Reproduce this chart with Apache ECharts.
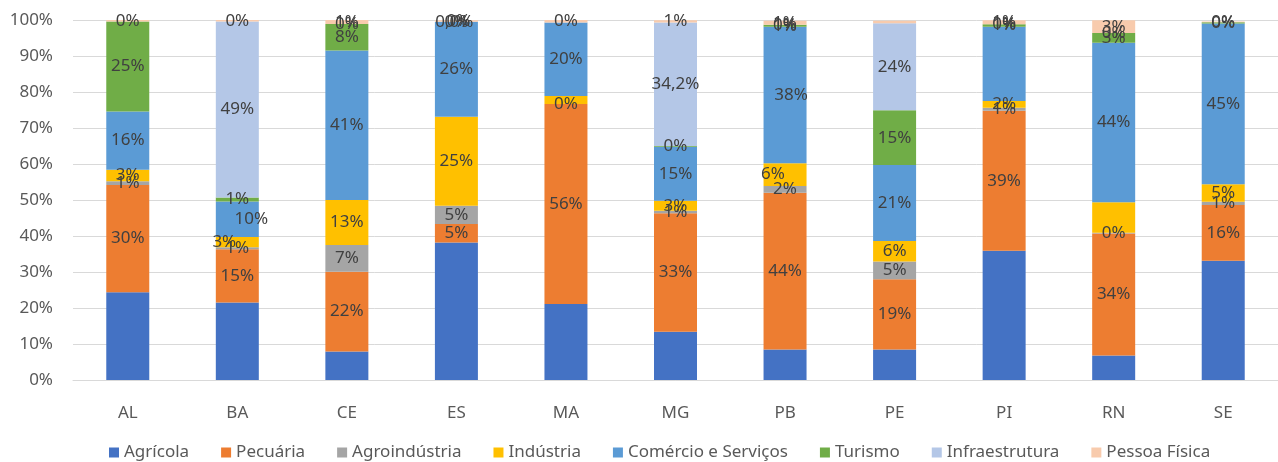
<!DOCTYPE html>
<html>
<head>
<meta charset="utf-8">
<script src="https://cdn.jsdelivr.net/npm/echarts@6/dist/echarts.min.js"></script>
<style>
  html, body { margin: 0; padding: 0; background: #fff; }
  #chart { width: 1278px; height: 462px; }
</style>
</head>
<body>
<div id="chart"></div>
<script>
// categorias (estados)
var estados = ['AL', 'BA', 'CE', 'ES', 'MA', 'MG', 'PB', 'PE', 'PI', 'RN', 'SE'];
var yTicks = ['0%', '10%', '20%', '30%', '40%', '50%', '60%', '70%', '80%', '90%', '100%'];

// alturas dos segmentos (%)
var agricola      = [24.4, 21.5, 7.9, 38.2, 21.1, 13.4, 8.5, 8.5, 35.9, 6.8, 33.1];
var pecuaria      = [29.8, 14.8, 22.2, 5.1, 55.6, 32.9, 43.5, 19.5, 38.9, 33.9, 15.5];
var agroindustria = [1.0, 0.6, 7.4, 5.1, 0, 0.7, 1.9, 4.9, 0.8, 0.2, 0.9];
var industria     = [3.2, 2.8, 12.5, 24.7, 2.2, 2.8, 6.3, 5.7, 1.9, 8.5, 4.9];
var comercio      = [16.2, 9.9, 41.5, 26.4, 20.4, 15.0, 37.9, 21.1, 20.6, 44.3, 44.6];
var turismo       = [25.0, 1.1, 7.4, 0, 0, 0.2, 0.6, 15.2, 0.7, 2.7, 0.4];
var infra         = [0, 48.9, 0, 0, 0, 34.3, 0, 24.2, 0, 0, 0];
var pessoaFisica  = [0.5, 0.5, 1.1, 0.4, 0.7, 0.6, 1.1, 0.7, 1.1, 3.5, 0.2];

// rótulos como aparecem no gráfico (null = sem rótulo)
var lblAgricola      = [null, null, null, null, null, null, null, null, null, null, null];
var lblPecuaria      = ['30%', '15%', '22%', '5%', '56%', '33%', '44%', '19%', '39%', '34%', '16%'];
var lblAgroindustria = ['1%', '1%', '7%', '5%', '0%', '1%', '2%', '5%', '1%', '0%', '1%'];
var lblIndustria     = ['3%', '3%', '13%', '25%', null, '3%', '6%', '6%', '2%', null, '5%'];
var lblComercio      = ['16%', '10%', '41%', '26%', '20%', '15%', '38%', '21%', null, '44%', '45%'];
var lblTurismo       = ['25%', '1%', '8%', '0%', null, '0%', '1%', '15%', '1%', '3%', '0%'];
var lblInfra         = [null, '49%', '0%', '0,0%', null, '34,2%', '0%', '24%', '0%', '0%', null];
var lblPessoaFisica  = ['0%', '0%', '1%', '0%', '0%', '1%', '1%', null, '1%', '3%', '0%'];

var nomes = ['Agrícola', 'Pecuária', 'Agroindústria', 'Indústria', 'Comércio e Serviços', 'Turismo', 'Infraestrutura', 'Pessoa Física'];
var valores = [agricola, pecuaria, agroindustria, industria, comercio, turismo, infra, pessoaFisica];
var rotulos = [lblAgricola, lblPecuaria, lblAgroindustria, lblIndustria, lblComercio, lblTurismo, lblInfra, lblPessoaFisica];
var cores = ['#4472C4', '#ED7D31', '#A5A5A5', '#FFC000', '#5B9BD5', '#70AD47', '#B4C7E7', '#F8CBAD'];

// deslocamentos manuais de alguns rótulos (como no original)
var desloc = {
  '3|1': [-13, 0], '4|1': [14, 0], '3|6': [-12, 0], '4|6': [6, 0],
  '6|3': [-2, 0], '7|3': [2, 0]
};

var FONTE = '"Noto Sans", sans-serif';

var series = nomes.map(function (nome, s) {
  return {
    name: nome,
    type: 'bar',
    stack: 'total',
    barWidth: 43,
    itemStyle: { color: cores[s] },
    emphasis: { disabled: true },
    data: valores[s].map(function (v, i) {
      var txt = rotulos[s][i];
      var item = { value: v };
      if (txt === null) {
        item.label = { show: false };
      } else {
        item.label = { show: true, formatter: txt };
        if (desloc[s + '|' + i]) item.label.offset = desloc[s + '|' + i];
      }
      return item;
    }),
    label: {
      show: true,
      position: 'inside',
      color: '#404040',
      fontSize: 17,
      fontFamily: FONTE
    }
  };
});

var chart = echarts.init(document.getElementById('chart'), null, { renderer: 'canvas' });
chart.setOption({
  backgroundColor: '#fff',
  animation: false,
  grid: { left: 73, right: -9, top: 20, bottom: 82 },
  legend: {
    data: nomes,
    left: 104,
    top: 439,
    itemWidth: 10,
    itemHeight: 10,
    itemGap: 32,
    icon: 'rect',
    textStyle: { color: '#595959', fontSize: 17, fontFamily: FONTE }
  },
  xAxis: {
    type: 'category',
    data: estados,
    axisLine: { lineStyle: { color: '#D9D9D9' } },
    axisTick: { show: false },
    axisLabel: { color: '#595959', fontSize: 17, fontFamily: FONTE, margin: 25 }
  },
  yAxis: {
    type: 'value',
    min: 0,
    max: 100,
    interval: 10,
    axisLine: { show: false },
    axisTick: { show: false },
    splitLine: { lineStyle: { color: '#D9D9D9', width: 1 } },
    axisLabel: {
      color: '#595959',
      fontSize: 17,
      fontFamily: FONTE,
      margin: 20,
      formatter: function (v) { return yTicks[Math.round(v / 10)]; }
    }
  },
  series: series
});
</script>
</body>
</html>
